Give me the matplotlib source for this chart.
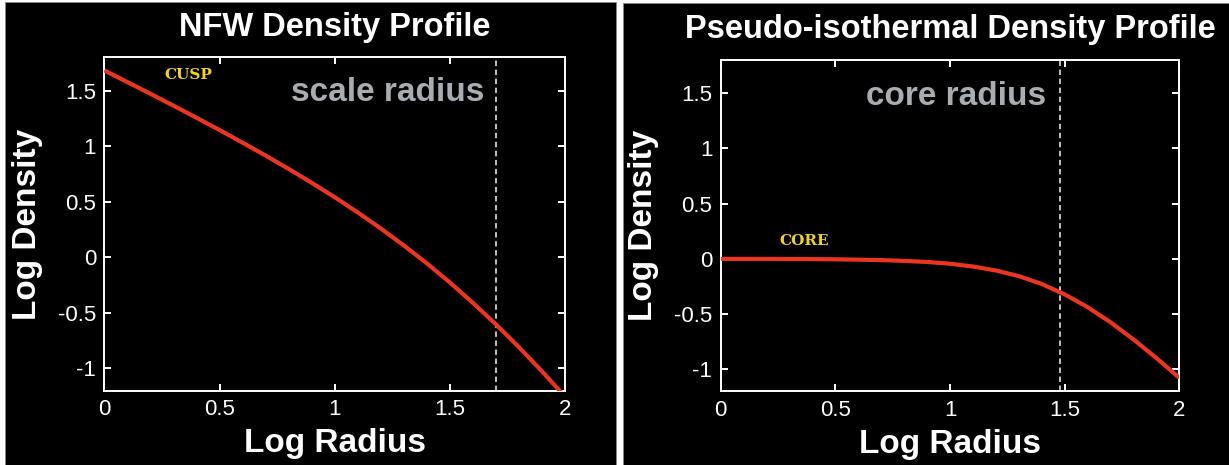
import numpy as np
import matplotlib.pyplot as plt
from matplotlib.patches import Rectangle

plt.rcParams['font.family'] = ['Liberation Sans', 'DejaVu Sans']
plt.rcParams['axes.unicode_minus'] = False

# log radius samples shared by both profiles
log_r = [0.0, 0.1, 0.2, 0.3, 0.4, 0.5, 0.6, 0.7, 0.8, 0.9, 1.0,
         1.1, 1.2, 1.3, 1.4, 1.5, 1.6, 1.7, 1.8, 1.9, 2.0]

# NFW profile (cuspy)
nfw_log_rho = [1.682, 1.577, 1.472, 1.365, 1.256, 1.146, 1.032, 0.916, 0.796, 0.671, 0.541,
               0.404, 0.260, 0.107, -0.054, -0.226, -0.410, -0.603, -0.809, -1.026, -1.254]
nfw_scale_radius = 1.7

# pseudo-isothermal profile (cored)
iso_log_rho = [-0.001, -0.001, -0.001, -0.002, -0.003, -0.005, -0.008, -0.012, -0.019, -0.029, -0.045,
               -0.070, -0.106, -0.157, -0.228, -0.322, -0.438, -0.575, -0.730, -0.899, -1.078]
iso_core_radius = 1.48

xticks = [0, 0.5, 1, 1.5, 2]
xticklabels = ['0', '0.5', '1', '1.5', '2']
yticks = [-1, -0.5, 0, 0.5, 1, 1.5]
yticklabels = ['-1', '-0.5', '0', '0.5', '1', '1.5']

red = '#ec3520'
fg = 'white'

fig = plt.figure(figsize=(12.29, 4.65), dpi=100, facecolor='white')
# black panels behind each plot
fig.patches.append(Rectangle((5 / 1229, 0), 611 / 1229, 1 - 2 / 465, transform=fig.transFigure,
                             facecolor='black', edgecolor='#888888', lw=0.6, zorder=-5))
fig.patches.append(Rectangle((623 / 1229, 0), 606 / 1229, 1 - 3 / 465, transform=fig.transFigure,
                             facecolor='black', edgecolor='#888888', lw=0.6, zorder=-5))

ax1 = fig.add_axes([0.0849, 0.1598, 0.3749, 0.717])
ax2 = fig.add_axes([0.5864, 0.1585, 0.3732, 0.7125])


def style(ax, title, pad):
    ax.set_facecolor('black')
    ax.set_xlim(0, 2)
    ax.set_ylim(-1.2, 1.8)
    ax.set_xticks(xticks)
    ax.set_xticklabels(xticklabels)
    ax.set_yticks(yticks)
    ax.set_yticklabels(yticklabels)
    for s in ax.spines.values():
        s.set_color(fg)
        s.set_linewidth(1.4)
    ax.tick_params(direction='in', length=5, width=1.4, colors=fg, labelsize=16,
                   top=True, right=True, pad=6)
    ax.set_title(title, color=fg, fontsize=23.5, fontweight='bold', pad=pad)
    ax.set_xlabel('Log Radius', color=fg, fontsize=24, fontweight='bold')
    ax.set_ylabel('Log Density', color=fg, fontsize=24, fontweight='bold')
    ax.xaxis.set_label_coords(0.5, -0.113)
    ax.yaxis.set_label_coords(-0.134, 0.5)


style(ax1, 'NFW Density Profile', 15)
ax1.plot(log_r, nfw_log_rho, color=red, lw=3, solid_capstyle='butt', zorder=3)
ax1.axvline(nfw_scale_radius, color='#cfcfcf', lw=1.3, dashes=(3, 2), zorder=2)
ax1.text(1.65, 1.48, 'scale radius', color='#a9adb1', fontsize=24, fontweight='bold',
         ha='right', va='center')
ax1.text(0.363, 1.64, 'CUSP', color='#f2d21a', fontsize=11, fontweight='bold',
         family='DejaVu Serif', ha='center', va='center')

style(ax2, 'Pseudo-isothermal Density Profile', 16)
ax2.plot(log_r, iso_log_rho, color=red, lw=3, solid_capstyle='butt', zorder=3)
ax2.axvline(iso_core_radius, color='#cfcfcf', lw=1.3, dashes=(3, 2), zorder=2)
ax2.text(1.42, 1.47, 'core radius', color='#a9adb1', fontsize=24, fontweight='bold',
         ha='right', va='center')
ax2.text(0.363, 0.16, 'CORE', color='#f2d21a', fontsize=11, fontweight='bold',
         family='DejaVu Serif', ha='center', va='center')

fig.savefig('out.png', dpi=100, facecolor='white')
